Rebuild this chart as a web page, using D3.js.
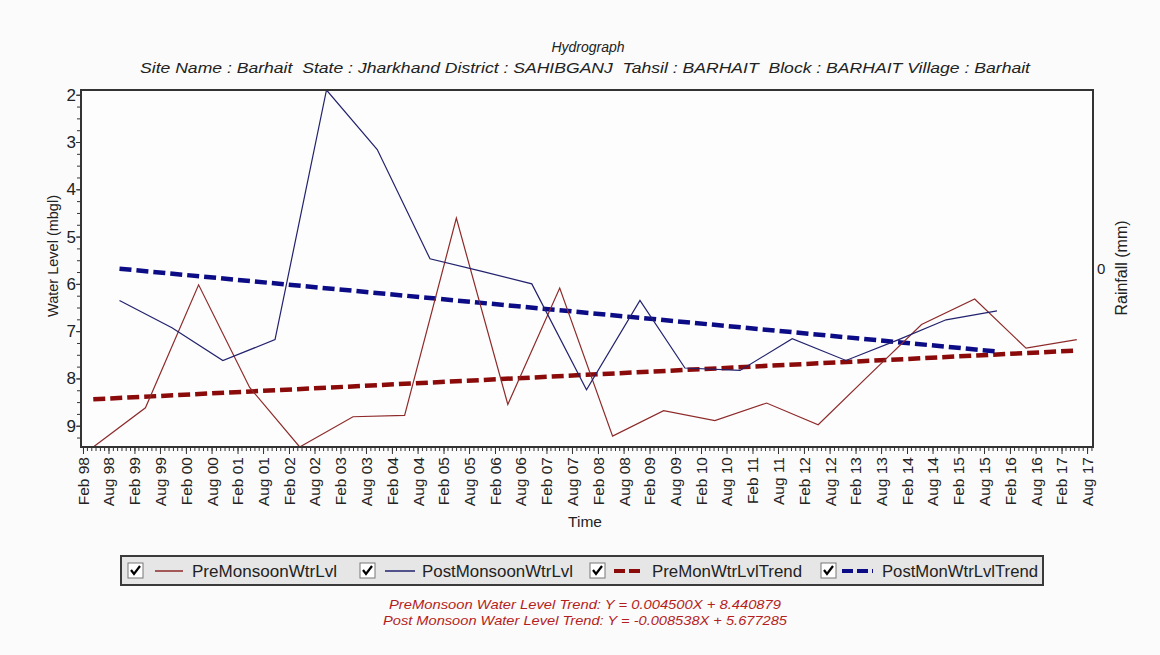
<!DOCTYPE html>
<html>
<head>
<meta charset="utf-8">
<script src="https://cdn.jsdelivr.net/npm/d3@7"></script>
<style>
  html, body { margin: 0; padding: 0; background: #fbfbfb; }
  svg { display: block; font-family: "Liberation Sans", Arial, sans-serif; }
  svg text { white-space: pre; }
</style>
</head>
<body>
<svg id="chart" width="1160" height="655"></svg>
<script>
// Pre-monsoon water level readings (metres below ground level)
const preDates = ["1998-04-15","1999-04-20","2000-05-01","2001-04-28","2002-04-18","2003-05-01",
  "2004-05-01","2005-05-03","2006-05-03","2007-05-06","2008-05-15","2009-05-12","2010-05-10",
  "2011-05-12","2012-05-12","2013-05-12","2014-05-15","2015-05-27","2016-05-25","2017-05-20"];
const preValues = [9.45, 8.62, 6.02, 8.19, 9.45, 8.81, 8.78, 4.61, 8.55, 6.09, 9.22, 8.68, 8.89,
  8.52, 8.98, 7.92, 6.86, 6.32, 7.36, 7.18];

// Post-monsoon water level readings
const postDates = ["1998-10-18","1999-10-25","2000-10-20","2001-10-25","2002-10-25","2003-10-20",
  "2004-10-28","2005-10-25","2006-10-20","2007-11-12","2008-11-25","2009-10-10","2010-11-05",
  "2011-11-10","2012-11-25","2013-11-25","2014-11-05","2015-11-01"];
const postValues = [6.35, 6.93, 7.62, 7.18, 1.90, 3.16, 5.47, 5.73, 6.00, 8.24, 6.35, 7.78, 7.83,
  7.16, 7.62, 7.19, 6.76, 6.57];

// Linear trend end points
const preTrendDates = ["1998-04-15", "2017-05-20"];
const preTrendValues = [8.44, 7.41];
const postTrendDates = ["1998-10-18", "2015-11-01"];
const postTrendValues = [5.68, 7.43];

// Axis setup
const yDomain = [1.9, 9.45];
const yTicks = [2, 3, 4, 5, 6, 7, 8, 9];
const xDomain = ["1998-01-18", "2017-09-12"];
const rainTicks = [0];

const legendLabels = ["PreMonsoonWtrLvl", "PostMonsoonWtrLvl", "PreMonWtrLvlTrend", "PostMonWtrLvlTrend"];
const equations = [
  "PreMonsoon Water Level Trend: Y = 0.004500X + 8.440879",
  "Post Monsoon Water Level Trend: Y = -0.008538X + 5.677285"
];

const parse = d3.timeParse("%Y-%m-%d");
const C = { pre: "#8e2a2a", post: "#22226e", preTrend: "#8b0a0a", postTrend: "#0c0c86" };

const svg = d3.select("#chart");
const plot = { left: 81, right: 1093, top: 90, bottom: 447 };

const x = d3.scaleTime().domain(xDomain.map(parse)).range([plot.left, plot.right]);
const y = d3.scaleLinear().domain(yDomain).range([plot.top, plot.bottom]);
const yRain = d3.scaleLinear().domain([-1, 1]).range([plot.bottom, plot.top]);

// plot background
svg.append("rect").attr("x", plot.left).attr("y", plot.top)
  .attr("width", plot.right - plot.left).attr("height", plot.bottom - plot.top)
  .attr("fill", "#fdfdfd");

// titles
svg.append("text").attr("x", 588).attr("y", 52).attr("text-anchor", "middle")
  .attr("font-size", 14).attr("font-style", "italic").attr("fill", "#222").text("Hydrograph");
svg.append("text").attr("x", 140).attr("y", 73)
  .attr("font-size", 14.5).attr("font-style", "italic").attr("fill", "#222")
  .attr("textLength", 890).attr("lengthAdjust", "spacingAndGlyphs")
  .text("Site Name : Barhait  State : Jharkhand District : SAHIBGANJ  Tahsil : BARHAIT  Block : BARHAIT Village : Barhait");

// X axis: major ticks every six months (Feb / Aug), minor monthly
const allMonths = d3.timeMonth.range(d3.timeMonth.ceil(x.domain()[0]), x.domain()[1]);
const majorMonths = allMonths.filter(d => d.getMonth() === 1 || d.getMonth() === 7);
const fmt = d3.timeFormat("%b %y");

const gx = svg.append("g").attr("transform", `translate(0,${plot.bottom})`);
gx.call(d3.axisBottom(x).tickValues(allMonths).tickSize(4).tickFormat(""))
  .call(g => g.select(".domain").remove())
  .call(g => g.selectAll("line").attr("stroke", "#333"));
const gx2 = svg.append("g").attr("transform", `translate(0,${plot.bottom})`);
gx2.call(d3.axisBottom(x).tickValues(majorMonths).tickSize(7).tickFormat(fmt))
  .call(g => g.select(".domain").remove())
  .call(g => g.selectAll("line").attr("stroke", "#333"))
  .call(g => g.selectAll("text")
    .attr("font-family", "'Liberation Sans', Arial, sans-serif")
    .attr("font-size", 15.5).attr("fill", "#222")
    .attr("transform", "rotate(-90)")
    .attr("text-anchor", "end")
    .attr("x", -10).attr("y", 0).attr("dy", "0.35em"));

// Y axis
const minorY = d3.range(2, 9.45, 0.25);
const gy = svg.append("g").attr("transform", `translate(${plot.left},0)`);
gy.call(d3.axisLeft(y).tickValues(minorY).tickSize(4).tickFormat(""))
  .call(g => g.select(".domain").remove())
  .call(g => g.selectAll("line").attr("stroke", "#333"));
const gy2 = svg.append("g").attr("transform", `translate(${plot.left},0)`);
gy2.call(d3.axisLeft(y).tickValues(yTicks).tickSize(5).tickPadding(0).tickFormat(d3.format("d")))
  .call(g => g.select(".domain").remove())
  .call(g => g.selectAll("line").attr("stroke", "#333"))
  .call(g => g.selectAll("text")
    .attr("font-family", "'Liberation Sans', Arial, sans-serif")
    .attr("font-size", 17).attr("fill", "#222"));

// Rainfall axis (right)
const gr = svg.append("g").attr("transform", `translate(${plot.right},0)`);
gr.call(d3.axisRight(yRain).tickValues(rainTicks).tickSize(0).tickPadding(4).tickFormat(d3.format("d")))
  .call(g => g.select(".domain").remove())
  .call(g => g.selectAll("text")
    .attr("font-family", "'Liberation Sans', Arial, sans-serif")
    .attr("font-size", 15).attr("fill", "#222"));

// axis titles
svg.append("text").attr("transform", "translate(53,256) rotate(-90)")
  .attr("text-anchor", "middle").attr("dy", "0.35em").attr("font-size", 14.5).attr("fill", "#222")
  .text("Water Level (mbgl)");
svg.append("text").attr("transform", "translate(1121,268) rotate(-90)")
  .attr("text-anchor", "middle").attr("dy", "0.35em").attr("font-size", 16).attr("fill", "#222")
  .text("Rainfall (mm)");
svg.append("text").attr("x", 585).attr("y", 522).attr("text-anchor", "middle").attr("dy", "0.35em")
  .attr("font-size", 15.5).attr("fill", "#222").text("Time");

// series
svg.append("clipPath").attr("id", "clip").append("rect")
  .attr("x", plot.left).attr("y", plot.top - 1)
  .attr("width", plot.right - plot.left).attr("height", plot.bottom - plot.top + 2);
const pg = svg.append("g").attr("clip-path", "url(#clip)");

const line = d3.line().x(d => x(d[0])).y(d => y(d[1]));
const zip = (ds, vs) => ds.map((d, i) => [parse(d), vs[i]]);

pg.append("path").datum(zip(preTrendDates, preTrendValues)).attr("d", line)
  .attr("fill", "none").attr("stroke", C.preTrend).attr("stroke-width", 4.5).attr("stroke-dasharray", "12,5");
pg.append("path").datum(zip(postTrendDates, postTrendValues)).attr("d", line)
  .attr("fill", "none").attr("stroke", C.postTrend).attr("stroke-width", 4.5).attr("stroke-dasharray", "12,5");
pg.append("path").datum(zip(preDates, preValues)).attr("d", line)
  .attr("fill", "none").attr("stroke", C.pre).attr("stroke-width", 1.2);
pg.append("path").datum(zip(postDates, postValues)).attr("d", line)
  .attr("fill", "none").attr("stroke", C.post).attr("stroke-width", 1.2);

// plot frame
svg.append("rect").attr("x", plot.left).attr("y", plot.top)
  .attr("width", plot.right - plot.left).attr("height", plot.bottom - plot.top)
  .attr("fill", "none").attr("stroke", "#333").attr("stroke-width", 2);

// legend
const lg = svg.append("g");
lg.append("rect").attr("x", 121).attr("y", 556).attr("width", 922).attr("height", 29)
  .attr("fill", "#e6e6e6").attr("stroke", "#3a3a3a").attr("stroke-width", 2);
const items = [
  { box: 128, l0: 155, l1: 183, tx: 192, tw: 145, color: C.pre, w: 1.5, dash: null },
  { box: 360, l0: 385, l1: 415, tx: 422, tw: 151, color: C.post, w: 1.5, dash: null },
  { box: 590, l0: 614, l1: 644, tx: 652, tw: 150, color: C.preTrend, w: 4, dash: "11,4" },
  { box: 821, l0: 842, l1: 873, tx: 882, tw: 156, color: C.postTrend, w: 4, dash: "11,4" }
];
items.forEach((it, i) => {
  const g = lg.append("g");
  g.append("rect").attr("x", it.box).attr("y", 563).attr("width", 15).attr("height", 15)
    .attr("fill", "#fff").attr("stroke", "#777").attr("stroke-width", 1);
  g.append("path").attr("d", `M${it.box + 3},${570} L${it.box + 6},${574} L${it.box + 12},${566}`)
    .attr("fill", "none").attr("stroke", "#000").attr("stroke-width", 2.2);
  g.append("line").attr("x1", it.l0).attr("x2", it.l1).attr("y1", 571).attr("y2", 571)
    .attr("stroke", it.color).attr("stroke-width", it.w).attr("stroke-dasharray", it.dash);
  g.append("text").attr("x", it.tx).attr("y", 577).attr("font-size", 16.5).attr("fill", "#222")
    .attr("textLength", it.tw).attr("lengthAdjust", "spacingAndGlyphs").text(legendLabels[i]);
});

// trend equations
const eqW = [392, 404];
equations.forEach((t, i) => {
  svg.append("text").attr("x", 585 - eqW[i] / 2).attr("y", 609 + i * 16)
    .attr("font-size", 13.5).attr("font-style", "italic").attr("fill", "#b41e1e")
    .attr("textLength", eqW[i]).attr("lengthAdjust", "spacingAndGlyphs").text(t);
});
</script>
</body>
</html>
